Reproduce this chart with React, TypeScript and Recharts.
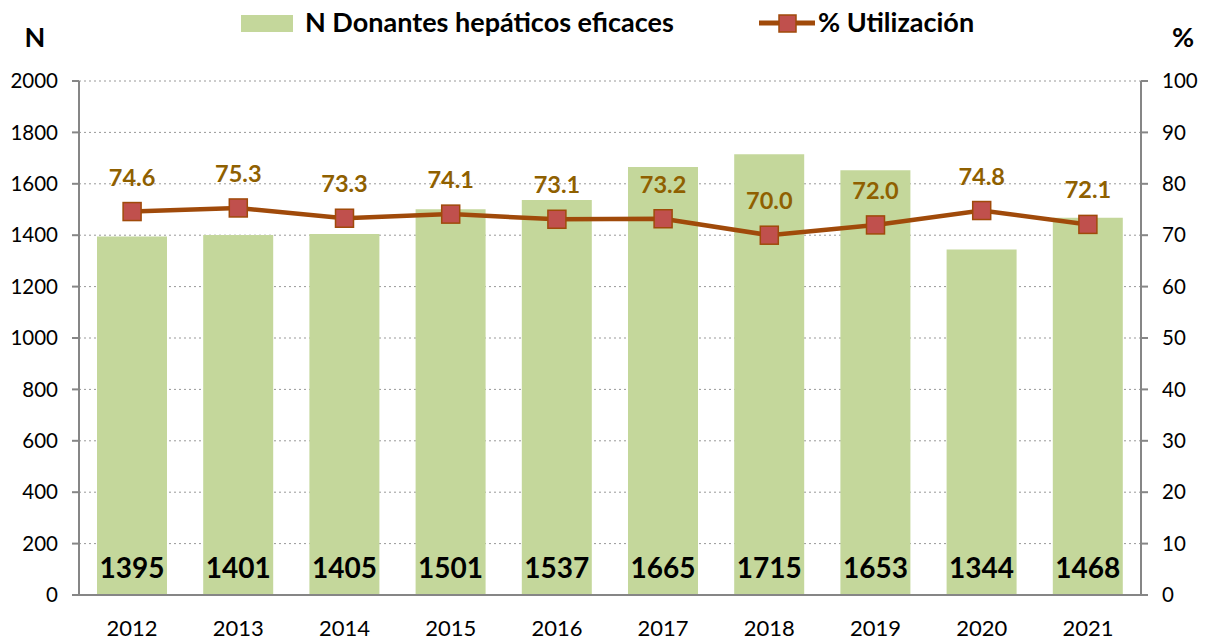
import React from 'react';
import { ComposedChart, Bar, Line, XAxis, YAxis, CartesianGrid, LabelList } from 'recharts';

const years = ['2012', '2013', '2014', '2015', '2016', '2017', '2018', '2019', '2020', '2021'];
const donors = [1395, 1401, 1405, 1501, 1537, 1665, 1715, 1653, 1344, 1468];
const utilization = [74.6, 75.3, 73.3, 74.1, 73.1, 73.2, 70.0, 72.0, 74.8, 72.1];
const leftTicks = [0, 200, 400, 600, 800, 1000, 1200, 1400, 1600, 1800, 2000];
const rightTicks = [0, 10, 20, 30, 40, 50, 60, 70, 80, 90, 100];
const edgeTicks = [0, 1, 2, 3, 4, 5, 6, 7, 8, 9, 10];
const barName = 'N Donantes hepáticos eficaces';
const lineName = '% Utilización';

const data = years.map((y, i) => ({ year: y, donors: donors[i], util: utilization[i] }));

const FONT = 'Lato, "Noto Sans", sans-serif';
const AXIS = '#868686';
const BAR = '#C4D79B';
const LINE = '#A04A0A';
const MARK = '#C0504D';
const LBL = '#8F6000';

const SquareDot = (props: any) => {
  const { cx, cy, index } = props;
  if (cx == null || cy == null) return null;
  return (
    <rect key={`dot-${index}`} x={cx - 9} y={cy - 9} width={18} height={18} fill={MARK} stroke={LINE} strokeWidth={1.5} />
  );
};

export default function App() {
  return (
    <div style={{ position: 'absolute', left: 0, top: 0, width: 1209, height: 644, fontFamily: FONT, background: '#fff' }}>
      <ComposedChart width={1209} height={644} data={data} margin={{ top: 81, right: 0, bottom: 0, left: 0 }}>
        <CartesianGrid yAxisId="left" xAxisId="cat" vertical={false} stroke="#999999" strokeDasharray="2 3" />
        <XAxis xAxisId="edges" type="number" domain={[0, 10]} ticks={edgeTicks} allowDataOverflow height={0}
          tick={false} axisLine={false} tickLine={{ stroke: AXIS, strokeWidth: 2 }} tickSize={7} />
        <XAxis xAxisId="cat" dataKey="year" height={49} tickLine={false} tickSize={0} tickMargin={25}
          axisLine={{ stroke: AXIS, strokeWidth: 2 }} tick={{ fill: '#000', fontSize: 22, fontFamily: FONT }} />
        <YAxis yAxisId="left" domain={[0, 2000]} ticks={leftTicks} width={79} tickSize={7} tickMargin={14}
          axisLine={{ stroke: AXIS, strokeWidth: 2 }} tickLine={{ stroke: AXIS, strokeWidth: 2 }}
          tick={{ fill: '#000', fontSize: 20.5, fontFamily: FONT }} />
        <YAxis yAxisId="right" orientation="right" domain={[0, 100]} ticks={rightTicks} width={68} tickSize={7} tickMargin={14}
          axisLine={{ stroke: AXIS, strokeWidth: 2 }} tickLine={{ stroke: AXIS, strokeWidth: 2 }}
          tick={{ fill: '#000', fontSize: 20.5, fontFamily: FONT }} />
        <Bar xAxisId="cat" yAxisId="left" dataKey="donors" name={barName} fill={BAR} barSize={70} isAnimationActive={false}>
          <LabelList dataKey="donors" position="insideBottom" offset={17} fill="#000" fontSize={28} fontWeight="bold" fontFamily={FONT} />
        </Bar>
        <Line xAxisId="cat" yAxisId="right" dataKey="util" name={lineName} stroke={LINE} strokeWidth={4.5}
          dot={SquareDot} activeDot={false} isAnimationActive={false}>
          <LabelList dataKey="util" position="top" offset={26} fill={LBL} fontSize={23.5} fontWeight="bold" fontFamily={FONT}
            formatter={(v: any) => Number(v).toFixed(1)} />
        </Line>
      </ComposedChart>
      <svg width={1209} height={80} style={{ position: 'absolute', left: 0, top: 0 }}>
        <text x={35} y={47} fontSize={27} fontWeight="bold" fontFamily={FONT} fill="#000" textAnchor="middle">N</text>
        <text x={1183} y={47} fontSize={27} fontWeight="bold" fontFamily={FONT} fill="#000" textAnchor="middle">%</text>
        <rect x={241} y={15} width={52} height={17} fill={BAR} />
        <text x={305} y={32} fontSize={27} fontWeight="bold" fontFamily={FONT} fill="#000">{barName}</text>
        <line x1={759} y1={23} x2={815} y2={23} stroke={LINE} strokeWidth={5} />
        <rect x={779} y={15} width={17} height={17} fill={MARK} stroke={LINE} strokeWidth={1.5} />
        <text x={818} y={32} fontSize={27} fontWeight="bold" fontFamily={FONT} fill="#000">{lineName}</text>
      </svg>
    </div>
  );
}
